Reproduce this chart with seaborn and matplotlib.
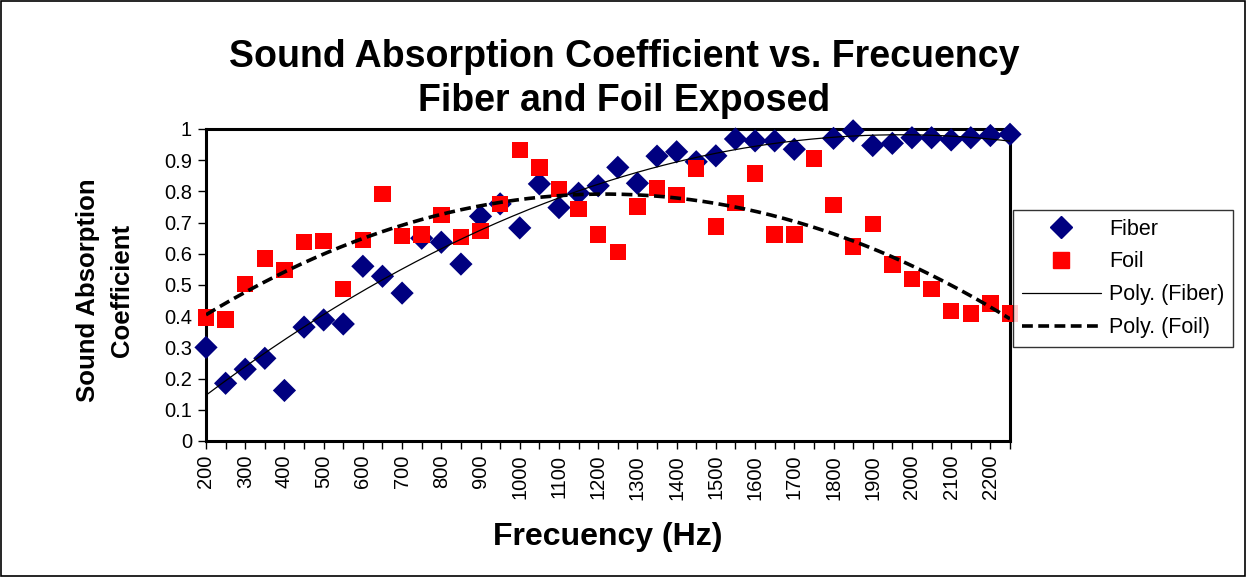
import numpy as np
import pandas as pd
import matplotlib
matplotlib.use("Agg")
import matplotlib.pyplot as plt
import seaborn as sns
from matplotlib.lines import Line2D
from matplotlib.ticker import MultipleLocator

freq = list(range(200, 2251, 50))
fiber = [0.30, 0.185, 0.23, 0.265, 0.162, 0.365, 0.388, 0.375, 0.56, 0.528, 0.474,
         0.65, 0.637, 0.567, 0.72, 0.76, 0.683, 0.824, 0.748, 0.794, 0.818, 0.877,
         0.826, 0.913, 0.927, 0.895, 0.914, 0.968, 0.962, 0.962, 0.935, np.nan,
         0.97, 0.994, 0.947, 0.954, 0.972, 0.972, 0.965, 0.972, 0.979, 0.983]
foil = [0.396, 0.39, 0.503, 0.585, 0.548, 0.637, 0.641, 0.487, 0.644, 0.792, 0.657,
        0.662, 0.724, 0.653, 0.673, 0.76, 0.933, 0.876, 0.808, 0.743, 0.662, 0.606,
        0.751, 0.81, 0.789, 0.873, 0.687, 0.762, 0.858, 0.662, 0.662, 0.906,
        0.756, 0.623, 0.696, 0.566, 0.519, 0.488, 0.417, 0.409, 0.441, 0.409]

df = pd.DataFrame({"freq": freq, "Fiber": fiber, "Foil": foil})

sns.set_theme(style="white")
plt.rcParams["font.family"] = ["Liberation Sans", "DejaVu Sans"]
plt.rcParams["text.color"] = "black"
plt.rcParams["axes.labelcolor"] = "black"
plt.rcParams["xtick.color"] = "black"
plt.rcParams["ytick.color"] = "black"

fig = plt.figure(figsize=(12.47, 5.77), dpi=100)
ax = fig.add_axes([206 / 1247, 1 - 441 / 577, (1010 - 206) / 1247, (441 - 129) / 577])

sns.scatterplot(data=df, x="freq", y="Fiber", ax=ax, marker="D", s=140,
                color="#000080", edgecolor="none", zorder=3, clip_on=False)
sns.scatterplot(data=df, x="freq", y="Foil", ax=ax, marker="s", s=140,
                color="#FF0000", edgecolor="none", zorder=3, clip_on=False)

xs = np.linspace(200, 2250, 300)
m = ~np.isnan(df["Fiber"].values)
pf = np.polyfit(df["freq"].values[m], df["Fiber"].values[m], 2)
pl = np.polyfit(df["freq"].values, df["Foil"].values, 2)
ax.plot(xs, np.polyval(pf, xs), color="black", lw=0.9, zorder=4)
ax.plot(xs, np.polyval(pl, xs), color="black", lw=2.6, ls=(0, (3, 1.5)), zorder=4)

ax.set_xlim(200, 2250)
ax.set_ylim(0, 1)
ax.xaxis.set_minor_locator(MultipleLocator(50))
ax.set_xticks(range(200, 2201, 100))
ax.set_xticklabels([str(v) for v in range(200, 2201, 100)], rotation=90)
ax.set_yticks(np.round(np.arange(0, 1.01, 0.1), 1))
ax.set_yticklabels(["0"] + [f"{v:.1f}" for v in np.arange(0.1, 0.95, 0.1)] + ["1"])
ax.tick_params(axis="both", which="both", direction="out", color="black",
               length=6, width=1, labelsize=14.5, bottom=True, left=True, pad=4)
ax.set_xlabel("")
ax.set_ylabel("")
for s in ax.spines.values():
    s.set_color("black")
    s.set_linewidth(2.2)

fig.text(608 / 1247, 1 - 537 / 577, "Frecuency (Hz)", ha="center", va="center",
         fontsize=23, fontweight="bold")
fig.text(88 / 1247, 1 - 290 / 577, "Sound Absorption", ha="center", va="center",
         rotation=90, fontsize=18.5, fontweight="bold")
fig.text(122 / 1247, 1 - 290 / 577, "Coefficient", ha="center", va="center",
         rotation=90, fontsize=18.5, fontweight="bold")

fig.text(624 / 1247, 1 - 57 / 577, "Sound Absorption Coefficient vs. Frecuency",
         ha="center", va="center", fontsize=27, fontweight="bold")
fig.text(624 / 1247, 1 - 101 / 577, "Fiber and Foil Exposed",
         ha="center", va="center", fontsize=27, fontweight="bold")

handles = [
    Line2D([], [], marker="D", color="#000080", ls="none", markersize=11),
    Line2D([], [], marker="s", color="#FF0000", ls="none", markersize=12),
    Line2D([], [], color="black", lw=0.9),
    Line2D([], [], color="black", lw=2.6, ls=(0, (3, 1.5))),
]
labels = ["Fiber", "Foil", "Poly. (Fiber)", "Poly. (Foil)"]
leg = fig.legend(handles, labels, loc="upper left",
                 bbox_to_anchor=(1013 / 1247, 1 - 210 / 577), fontsize=15.5,
                 frameon=True, fancybox=False, edgecolor="black",
                 handlelength=3.7, labelspacing=0.55, borderpad=0.4,
                 handletextpad=0.35, borderaxespad=0)
leg.get_frame().set_linewidth(1.0)

fig.patches.append(plt.Rectangle((0.001, 0.002), 0.997, 0.996, transform=fig.transFigure,
                                 fill=False, edgecolor="black", lw=1.2))

fig.savefig("out.png", dpi=100, facecolor="white")
